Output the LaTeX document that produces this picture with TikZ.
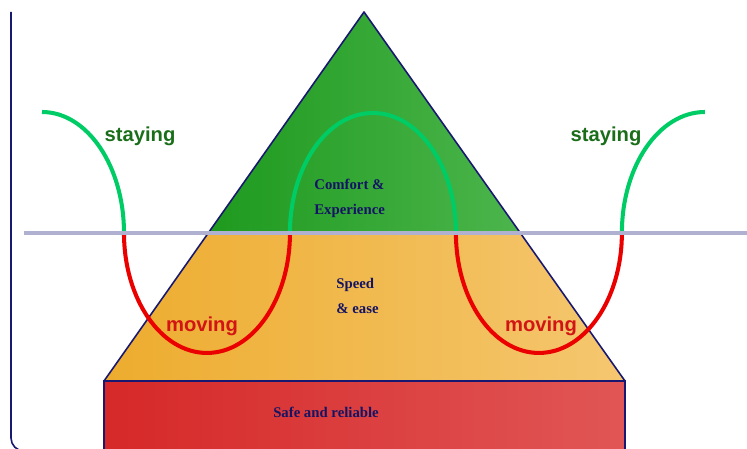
\documentclass[tikz,border=0pt]{standalone}
\usepackage{fontspec}
\setmainfont{Liberation Serif}
\setsansfont{Liberation Sans}
\definecolor{navyline}{RGB}{24,24,112}
\definecolor{greenL}{RGB}{30,154,30}
\definecolor{greenR}{RGB}{76,181,76}
\definecolor{orangeL}{RGB}{237,172,46}
\definecolor{orangeR}{RGB}{245,199,112}
\definecolor{redL}{RGB}{214,40,40}
\definecolor{redR}{RGB}{225,86,86}
\definecolor{wavegreen}{RGB}{0,204,102}
\definecolor{wavered}{RGB}{235,0,0}
\definecolor{levelgray}{RGB}{176,176,208}
\definecolor{stayinggreen}{RGB}{26,110,26}
\definecolor{movingred}{RGB}{210,20,20}
\definecolor{textnavy}{RGB}{20,20,100}

\begin{document}
\begin{tikzpicture}[x=0.02cm,y=-0.02cm,
    wave/.style={line width=2.3pt},
    tag/.style={font=\sffamily\bfseries\fontsize{11.5}{13}\selectfont,inner sep=0pt},
    tier/.style={font=\bfseries\fontsize{8.4}{14.2}\selectfont,text=textnavy,align=left,inner sep=0pt,anchor=north west}]
    \useasboundingbox (0,0) rectangle (747,449);
    \clip (0,0) rectangle (747,449);

    % Frame
    \draw[navyline,line width=0.9pt,rounded corners=0.26cm] (11,12) |- (104,451);

    % Pyramid (top and middle tiers)
    \shade[left color=greenL,right color=greenR] (364,12) -- (208.3,233) -- (519.7,233) -- cycle;
    \shade[left color=orangeL,right color=orangeR] (208.3,233) -- (104,381) -- (625,381) -- (519.7,233) -- cycle;
    \draw[navyline,line width=0.9pt,line join=round] (104,381) -- (364,12) -- (625,381);

    % Base tier
    \shadedraw[left color=redL,right color=redR,draw=navyline,line width=1.1pt] (104,381) rectangle (625,470);

    % Waves
    \draw[wave,wavegreen] (42,112) arc[start angle=90,end angle=0,x radius=1.64cm,y radius=2.42cm] coordinate (a1);
    \draw[wave,wavered] (a1) arc[start angle=180,end angle=360,x radius=1.66cm,y radius=2.4cm] coordinate (a2);
    \draw[wave,wavegreen] (a2) arc[start angle=180,end angle=0,x radius=1.66cm,y radius=2.4cm] coordinate (a3);
    \draw[wave,wavered] (a3) arc[start angle=180,end angle=360,x radius=1.66cm,y radius=2.4cm] coordinate (a4);
    \draw[wave,wavegreen] (a4) arc[start angle=180,end angle=90,x radius=1.66cm,y radius=2.42cm];

    % Level line
    \draw[levelgray,line width=2.8pt] (24,233) -- (747,233);

    % Labels
    \node[tag,text=stayinggreen] (stayL) at (140,136) {staying};
    \node[tag,text=stayinggreen] (stayR) at (606,136) {staying};
    \node[tag,text=movingred] (moveL) at (202,326) {moving};
    \node[tag,text=movingred] (moveR) at (541,326) {moving};
    \node[tier] (comfort) at (314,179) {Comfort \&\\Experience};
    \node[tier] (speed) at (336,278) {Speed\\\& ease};
    \node[tier,anchor=center] (safe) at (326,412) {Safe and reliable};
\end{tikzpicture}
\end{document}
